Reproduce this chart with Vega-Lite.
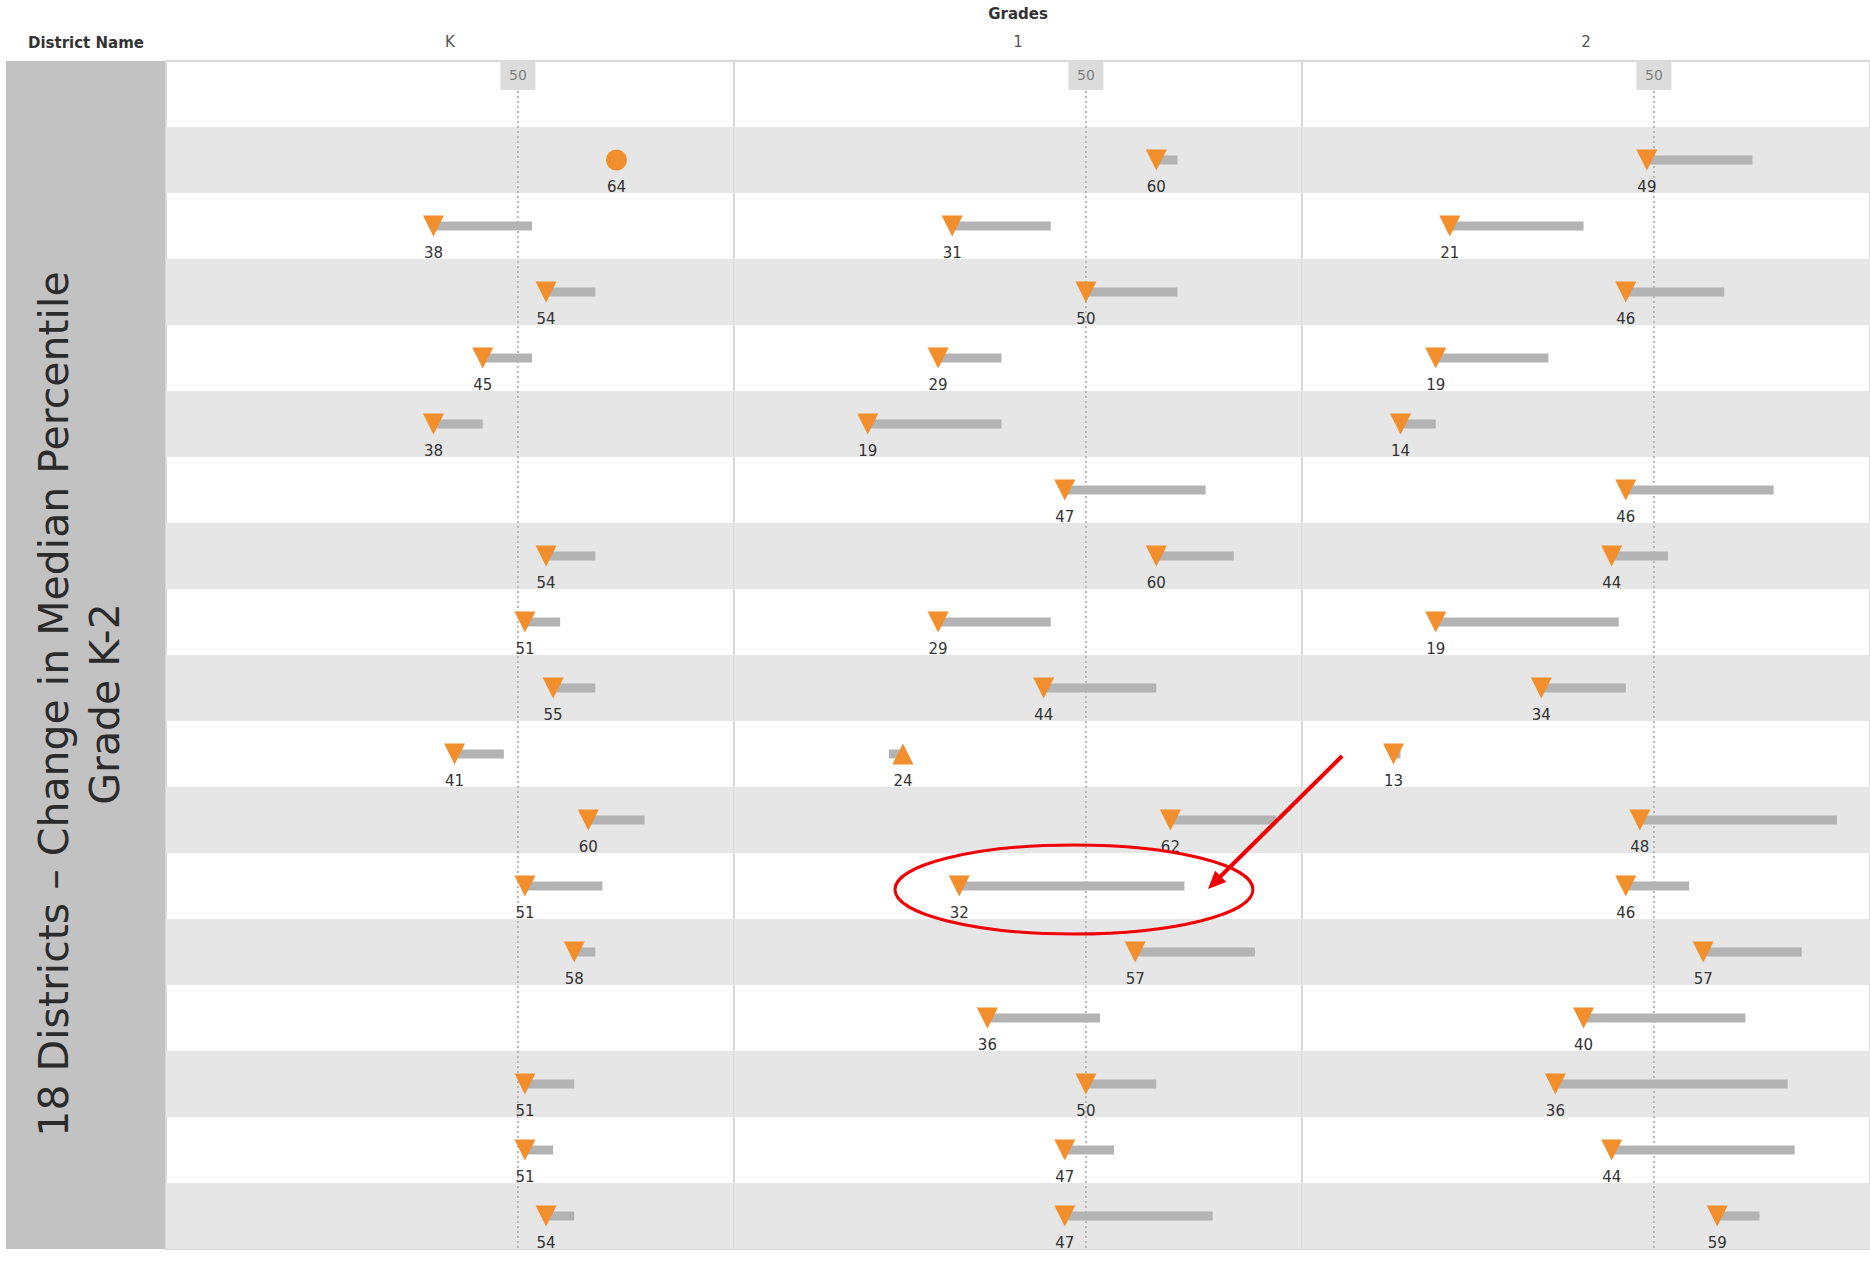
{
  "$schema": "https://vega.github.io/schema/vega-lite/v6.json",
  "background": "white",
  "padding": {"left": 6, "top": 6, "right": 0, "bottom": 0},
  "spacing": 0,
  "bounds": "flush",
  "datasets": {
    "districts": [
      {"district": "District 1", "row": 1}, {"district": "District 2", "row": 2}, {"district": "District 3", "row": 3},
      {"district": "District 4", "row": 4}, {"district": "District 5", "row": 5}, {"district": "District 6", "row": 6},
      {"district": "District 7", "row": 7}, {"district": "District 8", "row": 8}, {"district": "District 9", "row": 9},
      {"district": "District 10", "row": 10}, {"district": "District 11", "row": 11}, {"district": "District 12", "row": 12},
      {"district": "District 13", "row": 13}, {"district": "District 14", "row": 14}, {"district": "District 15", "row": 15},
      {"district": "District 16", "row": 16}, {"district": "District 17", "row": 17}, {"district": "District 18", "row": 18}
    ],
    "scores": [
      {"district": "District 2", "grade": "K", "current": 64, "prior": 64, "trend": "No change"},
      {"district": "District 3", "grade": "K", "current": 38, "prior": 52, "trend": "Decrease"},
      {"district": "District 4", "grade": "K", "current": 54, "prior": 61, "trend": "Decrease"},
      {"district": "District 5", "grade": "K", "current": 45, "prior": 52, "trend": "Decrease"},
      {"district": "District 6", "grade": "K", "current": 38, "prior": 45, "trend": "Decrease"},
      {"district": "District 8", "grade": "K", "current": 54, "prior": 61, "trend": "Decrease"},
      {"district": "District 9", "grade": "K", "current": 51, "prior": 56, "trend": "Decrease"},
      {"district": "District 10", "grade": "K", "current": 55, "prior": 61, "trend": "Decrease"},
      {"district": "District 11", "grade": "K", "current": 41, "prior": 48, "trend": "Decrease"},
      {"district": "District 12", "grade": "K", "current": 60, "prior": 68, "trend": "Decrease"},
      {"district": "District 13", "grade": "K", "current": 51, "prior": 62, "trend": "Decrease"},
      {"district": "District 14", "grade": "K", "current": 58, "prior": 61, "trend": "Decrease"},
      {"district": "District 16", "grade": "K", "current": 51, "prior": 58, "trend": "Decrease"},
      {"district": "District 17", "grade": "K", "current": 51, "prior": 55, "trend": "Decrease"},
      {"district": "District 18", "grade": "K", "current": 54, "prior": 58, "trend": "Decrease"},
      {"district": "District 2", "grade": "1", "current": 60, "prior": 63, "trend": "Decrease"},
      {"district": "District 3", "grade": "1", "current": 31, "prior": 45, "trend": "Decrease"},
      {"district": "District 4", "grade": "1", "current": 50, "prior": 63, "trend": "Decrease"},
      {"district": "District 5", "grade": "1", "current": 29, "prior": 38, "trend": "Decrease"},
      {"district": "District 6", "grade": "1", "current": 19, "prior": 38, "trend": "Decrease"},
      {"district": "District 7", "grade": "1", "current": 47, "prior": 67, "trend": "Decrease"},
      {"district": "District 8", "grade": "1", "current": 60, "prior": 71, "trend": "Decrease"},
      {"district": "District 9", "grade": "1", "current": 29, "prior": 45, "trend": "Decrease"},
      {"district": "District 10", "grade": "1", "current": 44, "prior": 60, "trend": "Decrease"},
      {"district": "District 11", "grade": "1", "current": 24, "prior": 22, "trend": "Increase"},
      {"district": "District 12", "grade": "1", "current": 62, "prior": 77, "trend": "Decrease"},
      {"district": "District 13", "grade": "1", "current": 32, "prior": 64, "trend": "Decrease"},
      {"district": "District 14", "grade": "1", "current": 57, "prior": 74, "trend": "Decrease"},
      {"district": "District 15", "grade": "1", "current": 36, "prior": 52, "trend": "Decrease"},
      {"district": "District 16", "grade": "1", "current": 50, "prior": 60, "trend": "Decrease"},
      {"district": "District 17", "grade": "1", "current": 47, "prior": 54, "trend": "Decrease"},
      {"district": "District 18", "grade": "1", "current": 47, "prior": 68, "trend": "Decrease"},
      {"district": "District 2", "grade": "2", "current": 49, "prior": 64, "trend": "Decrease"},
      {"district": "District 3", "grade": "2", "current": 21, "prior": 40, "trend": "Decrease"},
      {"district": "District 4", "grade": "2", "current": 46, "prior": 60, "trend": "Decrease"},
      {"district": "District 5", "grade": "2", "current": 19, "prior": 35, "trend": "Decrease"},
      {"district": "District 6", "grade": "2", "current": 14, "prior": 19, "trend": "Decrease"},
      {"district": "District 7", "grade": "2", "current": 46, "prior": 67, "trend": "Decrease"},
      {"district": "District 8", "grade": "2", "current": 44, "prior": 52, "trend": "Decrease"},
      {"district": "District 9", "grade": "2", "current": 19, "prior": 45, "trend": "Decrease"},
      {"district": "District 10", "grade": "2", "current": 34, "prior": 46, "trend": "Decrease"},
      {"district": "District 11", "grade": "2", "current": 13, "prior": 14, "trend": "Decrease"},
      {"district": "District 12", "grade": "2", "current": 48, "prior": 76, "trend": "Decrease"},
      {"district": "District 13", "grade": "2", "current": 46, "prior": 55, "trend": "Decrease"},
      {"district": "District 14", "grade": "2", "current": 57, "prior": 71, "trend": "Decrease"},
      {"district": "District 15", "grade": "2", "current": 40, "prior": 63, "trend": "Decrease"},
      {"district": "District 16", "grade": "2", "current": 36, "prior": 69, "trend": "Decrease"},
      {"district": "District 17", "grade": "2", "current": 44, "prior": 70, "trend": "Decrease"},
      {"district": "District 18", "grade": "2", "current": 59, "prior": 65, "trend": "Decrease"}
    ]
  },
  "hconcat": [
    {
      "width": 160, "height": 1188,
      "title": {"text": " ", "subtitle": "District Name", "subtitleFontWeight": "bold", "subtitleColor": "#333333"},
      "view": {"fill": "#c2c2c2", "stroke": null},
      "data": {"values": [{}]},
      "mark": {"type": "text", "text": ["18 Districts – Change in Median Percentile", "Grade K-2"], "angle": 270, "font": "DejaVu Sans", "fontSize": 41, "lineHeight": 51, "color": "#2b2b2b", "align": "center", "baseline": "middle", "dx": -49, "dy": -30},
      "encoding": {}
    },
    {
      "width": 568, "height": 1188,
      "title": {"text": " ", "subtitle": "K"},
      "view": {"stroke": "#d9d9d9", "strokeWidth": 2},
      "data": {"name": "scores"},
      "transform": [{"filter": "datum.grade == 'K'"}],
      "layer": [
        {"data": {"name": "districts"}, "transform": [{"filter": "datum.row % 2 == 0"}],
         "mark": {"type": "rect", "color": "#e6e6e6"},
         "encoding": {"y": {"field": "district", "type": "nominal", "sort": null, "axis": null, "scale": {"domain": ["District 1","District 2","District 3","District 4","District 5","District 6","District 7","District 8","District 9","District 10","District 11","District 12","District 13","District 14","District 15","District 16","District 17","District 18"], "paddingInner": 0, "paddingOuter": 0}}}},
        {"data": {"values": [{}]}, "mark": {"type": "rule", "color": "#a8a8a8", "strokeDash": [2, 3], "strokeWidth": 1.5},
         "encoding": {"x": {"datum": 50, "type": "quantitative", "axis": null, "scale": {"domain": [0, 80.7], "nice": false, "zero": false}}}},
        {"mark": {"type": "bar", "height": 9, "color": "#b3b3b3"},
         "encoding": {"x": {"field": "current", "type": "quantitative", "axis": null, "scale": {"domain": [0, 80.7], "nice": false, "zero": false}}, "x2": {"field": "prior"}, "y": {"field": "district", "type": "nominal", "axis": null}}},
        {"mark": {"type": "point", "filled": true, "size": 441, "opacity": 1, "color": "#f28e2b"},
         "encoding": {"x": {"field": "current", "type": "quantitative"}, "y": {"field": "district", "type": "nominal"},
                      "shape": {"field": "trend", "type": "nominal", "legend": null, "scale": {"domain": ["Decrease", "Increase", "No change"], "range": ["M-1,-1L1,-1L0,1Z", "M-1,1L1,1L0,-1Z", "circle"]}}}},
        {"mark": {"type": "text", "dy": 27, "font": "DejaVu Sans", "fontSize": 15, "color": "#333333"},
         "encoding": {"x": {"field": "current", "type": "quantitative"}, "y": {"field": "district", "type": "nominal"}, "text": {"field": "current", "type": "quantitative"}}},
        {"data": {"values": [{}]}, "mark": {"type": "point", "filled": true, "opacity": 1, "size": 1225, "color": "#dcdcdc", "shape": "M-1,-0.83L1,-0.83L1,0.83L-1,0.83Z", "yOffset": -18.5},
         "encoding": {"x": {"datum": 50, "type": "quantitative"}, "y": {"datum": "District 1", "type": "nominal"}}},
        {"data": {"values": [{}]}, "mark": {"type": "text", "text": "50", "font": "DejaVu Sans", "fontSize": 14, "color": "#808080", "dy": -18.5},
         "encoding": {"x": {"datum": 50, "type": "quantitative"}, "y": {"datum": "District 1", "type": "nominal"}}}
      ]
    },
    {
      "width": 568, "height": 1188,
      "title": {"text": "Grades", "subtitle": "1"},
      "view": {"stroke": "#d9d9d9", "strokeWidth": 2},
      "data": {"name": "scores"},
      "transform": [{"filter": "datum.grade == '1'"}],
      "layer": [
        {"data": {"name": "districts"}, "transform": [{"filter": "datum.row % 2 == 0"}],
         "mark": {"type": "rect", "color": "#e6e6e6"},
         "encoding": {"y": {"field": "district", "type": "nominal", "sort": null, "axis": null, "scale": {"domain": ["District 1","District 2","District 3","District 4","District 5","District 6","District 7","District 8","District 9","District 10","District 11","District 12","District 13","District 14","District 15","District 16","District 17","District 18"], "paddingInner": 0, "paddingOuter": 0}}}},
        {"data": {"values": [{}]}, "mark": {"type": "rule", "color": "#a8a8a8", "strokeDash": [2, 3], "strokeWidth": 1.5},
         "encoding": {"x": {"datum": 50, "type": "quantitative", "axis": null, "scale": {"domain": [0, 80.7], "nice": false, "zero": false}}}},
        {"mark": {"type": "bar", "height": 9, "color": "#b3b3b3"},
         "encoding": {"x": {"field": "current", "type": "quantitative", "axis": null, "scale": {"domain": [0, 80.7], "nice": false, "zero": false}}, "x2": {"field": "prior"}, "y": {"field": "district", "type": "nominal", "axis": null}}},
        {"mark": {"type": "point", "filled": true, "size": 441, "opacity": 1, "color": "#f28e2b"},
         "encoding": {"x": {"field": "current", "type": "quantitative"}, "y": {"field": "district", "type": "nominal"},
                      "shape": {"field": "trend", "type": "nominal", "legend": null, "scale": {"domain": ["Decrease", "Increase", "No change"], "range": ["M-1,-1L1,-1L0,1Z", "M-1,1L1,1L0,-1Z", "circle"]}}}},
        {"mark": {"type": "text", "dy": 27, "font": "DejaVu Sans", "fontSize": 15, "color": "#333333"},
         "encoding": {"x": {"field": "current", "type": "quantitative"}, "y": {"field": "district", "type": "nominal"}, "text": {"field": "current", "type": "quantitative"}}},
        {"data": {"values": [{}]}, "mark": {"type": "point", "filled": true, "opacity": 1, "size": 1225, "color": "#dcdcdc", "shape": "M-1,-0.83L1,-0.83L1,0.83L-1,0.83Z", "yOffset": -18.5},
         "encoding": {"x": {"datum": 50, "type": "quantitative"}, "y": {"datum": "District 1", "type": "nominal"}}},
        {"data": {"values": [{}]}, "mark": {"type": "text", "text": "50", "font": "DejaVu Sans", "fontSize": 14, "color": "#808080", "dy": -18.5},
         "encoding": {"x": {"datum": 50, "type": "quantitative"}, "y": {"datum": "District 1", "type": "nominal"}}}
      ]
    },
    {
      "width": 568, "height": 1188,
      "title": {"text": " ", "subtitle": "2"},
      "view": {"stroke": "#d9d9d9", "strokeWidth": 2},
      "data": {"name": "scores"},
      "transform": [{"filter": "datum.grade == '2'"}],
      "layer": [
        {"data": {"name": "districts"}, "transform": [{"filter": "datum.row % 2 == 0"}],
         "mark": {"type": "rect", "color": "#e6e6e6"},
         "encoding": {"y": {"field": "district", "type": "nominal", "sort": null, "axis": null, "scale": {"domain": ["District 1","District 2","District 3","District 4","District 5","District 6","District 7","District 8","District 9","District 10","District 11","District 12","District 13","District 14","District 15","District 16","District 17","District 18"], "paddingInner": 0, "paddingOuter": 0}}}},
        {"data": {"values": [{}]}, "mark": {"type": "rule", "color": "#a8a8a8", "strokeDash": [2, 3], "strokeWidth": 1.5},
         "encoding": {"x": {"datum": 50, "type": "quantitative", "axis": null, "scale": {"domain": [0, 80.7], "nice": false, "zero": false}}}},
        {"mark": {"type": "bar", "height": 9, "color": "#b3b3b3"},
         "encoding": {"x": {"field": "current", "type": "quantitative", "axis": null, "scale": {"domain": [0, 80.7], "nice": false, "zero": false}}, "x2": {"field": "prior"}, "y": {"field": "district", "type": "nominal", "axis": null}}},
        {"mark": {"type": "point", "filled": true, "size": 441, "opacity": 1, "color": "#f28e2b"},
         "encoding": {"x": {"field": "current", "type": "quantitative"}, "y": {"field": "district", "type": "nominal"},
                      "shape": {"field": "trend", "type": "nominal", "legend": null, "scale": {"domain": ["Decrease", "Increase", "No change"], "range": ["M-1,-1L1,-1L0,1Z", "M-1,1L1,1L0,-1Z", "circle"]}}}},
        {"mark": {"type": "text", "dy": 27, "font": "DejaVu Sans", "fontSize": 15, "color": "#333333"},
         "encoding": {"x": {"field": "current", "type": "quantitative"}, "y": {"field": "district", "type": "nominal"}, "text": {"field": "current", "type": "quantitative"}}},
        {"data": {"values": [{}]}, "mark": {"type": "point", "filled": true, "opacity": 1, "size": 1225, "color": "#dcdcdc", "shape": "M-1,-0.83L1,-0.83L1,0.83L-1,0.83Z", "yOffset": -18.5},
         "encoding": {"x": {"datum": 50, "type": "quantitative"}, "y": {"datum": "District 1", "type": "nominal"}}},
        {"data": {"values": [{}]}, "mark": {"type": "text", "text": "50", "font": "DejaVu Sans", "fontSize": 14, "color": "#808080", "dy": -18.5},
         "encoding": {"x": {"datum": 50, "type": "quantitative"}, "y": {"datum": "District 1", "type": "nominal"}}},
        {"data": {"values": [{}]}, "mark": {"type": "point", "filled": false, "opacity": 1, "size": 128164, "color": "#f00000", "strokeWidth": 3, "shape": "M-1,0A1,0.249 0 1,0 1,0A1,0.249 0 1,0 -1,0Z", "yOffset": 3.5},
         "encoding": {"x": {"datum": -32.4, "type": "quantitative"}, "y": {"datum": "District 13", "type": "nominal"}}},
        {"data": {"values": [{}]}, "mark": {"type": "rule", "color": "#f00000", "strokeWidth": 4, "yOffset": 2, "y2Offset": -6},
         "encoding": {"x": {"datum": 5.7, "type": "quantitative"}, "x2": {"datum": -12.1}, "y": {"datum": "District 11", "type": "nominal"}, "y2": {"datum": "District 13"}}},
        {"data": {"values": [{}]}, "mark": {"type": "point", "filled": true, "opacity": 1, "size": 400, "color": "#f00000", "angle": 45, "shape": "M0,1L-0.8,-0.8L0.8,-0.8Z", "yOffset": -4},
         "encoding": {"x": {"datum": -12.35, "type": "quantitative"}, "y": {"datum": "District 13", "type": "nominal"}}}
      ]
    }
  ],
  "config": {
    "view": {"stroke": null},
    "concat": {"spacing": 0},
    "title": {"font": "DejaVu Sans", "fontSize": 15, "fontWeight": "bold", "color": "#333333", "anchor": "middle", "frame": "group", "offset": 10, "subtitleFont": "DejaVu Sans", "subtitleFontSize": 15, "subtitleColor": "#555555", "subtitlePadding": 13}
  }
}
